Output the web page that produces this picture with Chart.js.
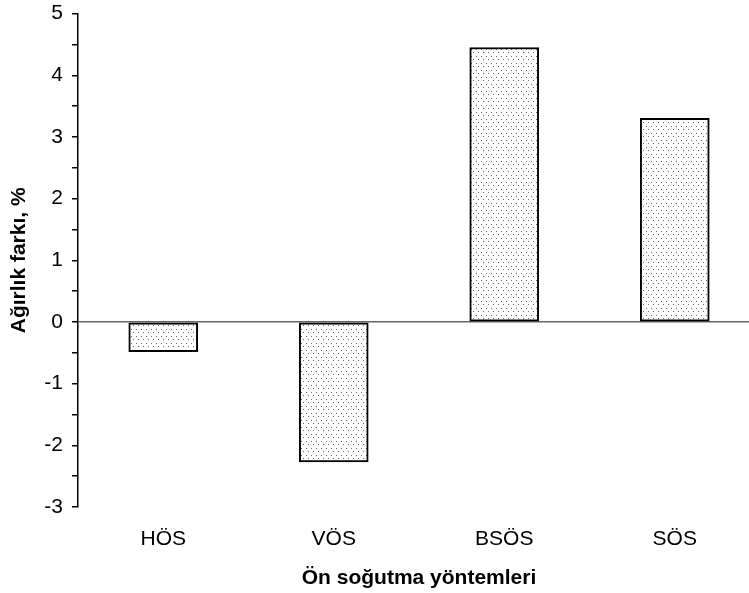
<!DOCTYPE html>
<html>
<head>
<meta charset="utf-8">
<script src="https://cdn.jsdelivr.net/npm/chart.js@4/dist/chart.umd.min.js"></script>
<style>
  html, body { margin: 0; padding: 0; background: #fff; overflow: hidden; }
  #wrap { width: 760px; height: 593px; overflow: hidden; }
  #barChart { display: block; margin-top: -8px; }
</style>
</head>
<body>
<div id="wrap"><canvas id="barChart" width="760" height="601"></canvas></div>
<script>
var yontemler = ["HÖS", "VÖS", "BSÖS", "SÖS"];
var agirlikFarki = [-0.48, -2.27, 4.45, 3.30];

// noktali dolgu deseni
function noktaDeseni() {
    var c = document.createElement('canvas');
    c.width = 5;
    c.height = 7;
    var g = c.getContext('2d');
    g.fillStyle = '#ffffff';
    g.fillRect(0, 0, 5, 7);
    g.fillStyle = '#666';
    g.fillRect(1, 1, 1, 1);
    g.fillRect(3, 4, 1, 1);
    return document.getElementById("barChart").getContext('2d').createPattern(c, 'repeat');
}

var ctx = document.getElementById("barChart").getContext('2d');
var grafik = new Chart(ctx, {
    type: 'bar',
    data: {
        labels: yontemler,
        datasets: [{
            data: agirlikFarki,
            backgroundColor: noktaDeseni(),
            borderColor: '#000',
            borderWidth: 2,
            borderSkipped: false,
            barThickness: 69
        }]
    },
    options: {
        responsive: false,
        animation: false,
        devicePixelRatio: 1,
        layout: { autoPadding: false, padding: { top: 4, left: 0, right: 0, bottom: 0 } },
        plugins: {
            legend: { display: false },
            tooltip: { enabled: false }
        },
        scales: {
            x: {
                grid: { display: false },
                border: { display: false },
                ticks: {
                    color: '#000',
                    padding: 12,
                    font: { family: 'Liberation Sans', size: 21 }
                },
                title: {
                    display: true,
                    text: 'Ön soğutma yöntemleri',
                    color: '#000',
                    padding: { top: 4, bottom: 2 },
                    font: { family: 'Liberation Sans', size: 21, weight: 'bold' }
                },
                afterFit: function (s) { s.height = 86; }
            },
            y: {
                min: -3,
                max: 5,
                border: { display: true, color: '#000', width: 1.5 },
                grid: {
                    drawOnChartArea: true,
                    tickLength: 6,
                    tickColor: '#000',
                    lineWidth: 1.5,
                    color: function (c) {
                        return c.tick && c.tick.value === 0 ? '#666' : 'rgba(0,0,0,0)';
                    }
                },
                ticks: {
                    stepSize: 0.5,
                    autoSkip: false,
                    color: '#000',
                    padding: 9,
                    font: { family: 'Liberation Sans', size: 21 },
                    callback: function (v) { return Number.isInteger(v) ? v : ''; }
                },
                title: {
                    display: true,
                    text: 'Ağırlık farkı, %',
                    color: '#000',
                    padding: { top: 7, bottom: 0 },
                    font: { family: 'Liberation Sans', size: 21, weight: 'bold' }
                },
                afterFit: function (s) { s.width = 78; }
            }
        }
    }
});
</script>
</body>
</html>
